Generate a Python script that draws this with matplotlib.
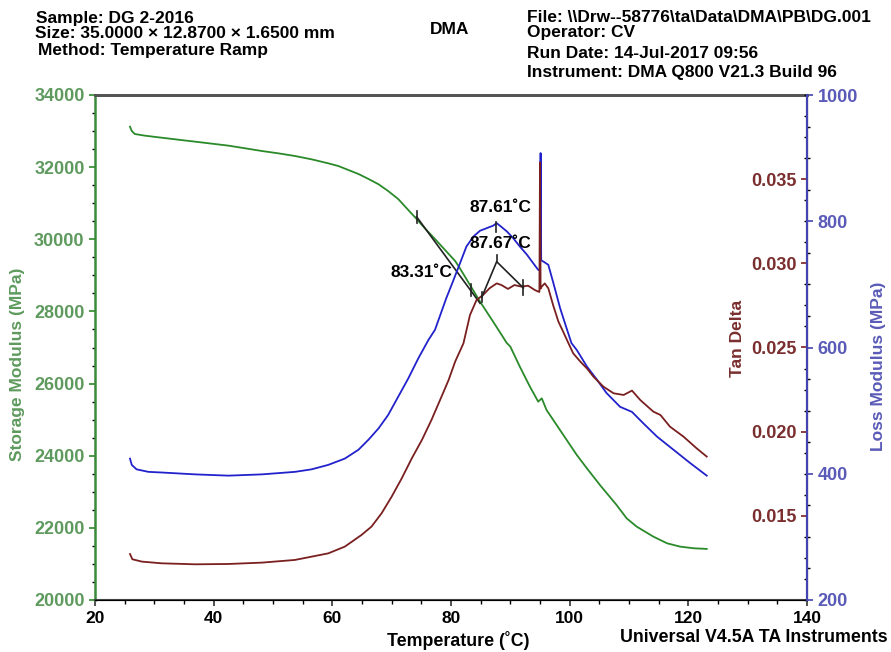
import matplotlib.pyplot as plt
from matplotlib.ticker import MultipleLocator

plt.rcParams['font.family'] = ['Liberation Sans', 'DejaVu Sans']
plt.rcParams['font.weight'] = 'bold'

# Storage modulus (MPa) vs temperature (C)
T_sto = [25.9, 26.2, 26.7, 28.4, 31.2, 34.0, 36.9, 39.7, 42.5, 45.3, 48.1, 50.9, 53.7,
         56.5, 59.3, 61.0, 62.7, 64.4, 66.1, 67.8, 69.4, 71.1, 72.8, 74.2, 75.6, 77.3,
         79.0, 80.7, 81.5, 83.2, 84.9, 87.1, 88.0, 89.4, 90.0, 91.6, 93.3, 94.7, 95.3,
         96.1, 97.8, 99.5, 101.2, 102.9, 105.1, 107.9, 109.6, 111.3, 114.1, 116.4, 118.6,
         120.9, 123.1]
E_sto = [33122, 33002, 32919, 32873, 32817, 32762, 32706, 32651, 32596, 32522, 32448, 32383,
         32309, 32217, 32106, 32032, 31921, 31810, 31672, 31524, 31339, 31117, 30812, 30563,
         30304, 30008, 29703, 29398, 29196, 28733, 28270, 27716, 27486, 27125, 27024, 26469,
         25915, 25499, 25591, 25268, 24852, 24436, 24021, 23651, 23189, 22635, 22265, 22034,
         21757, 21573, 21480, 21434, 21416]

# Loss modulus (MPa)
T_loss = [25.9, 26.2, 27.0, 29.0, 31.2, 36.9, 42.5, 48.1, 53.7, 56.5, 59.3, 62.1, 64.4,
          66.1, 67.8, 69.4, 71.1, 72.8, 74.5, 76.2, 77.3, 78.1, 79.2, 80.3, 81.5, 82.6,
          83.8, 84.9, 86.0, 87.1, 87.7, 88.5, 89.4, 90.5, 91.6, 92.8, 93.9, 94.7, 95.0,
          95.1, 95.2, 95.6, 96.4, 97.2, 98.4, 99.5, 100.3, 101.2, 102.9, 104.6, 106.2,
          108.5, 110.5, 112.4, 114.7, 117.5, 120.3, 123.1]
E_loss = [424, 414, 407, 403, 402, 399, 397, 399, 403, 407, 414, 424, 438,
          454, 472, 493, 522, 551, 583, 612, 628, 649, 678, 704, 733, 760,
          776, 785, 789, 793, 797, 791, 784, 773, 760, 747, 733, 723, 722,
          908, 738, 736, 731, 704, 662, 630, 607, 596, 570, 549, 528,
          506, 498, 480, 459, 438, 417, 397]

# Tan delta
T_tan = [25.9, 26.3, 27.9, 31.2, 36.9, 42.5, 48.1, 53.7, 59.3, 62.1, 64.9, 66.6, 68.3,
         70.0, 71.7, 73.4, 75.1, 76.7, 78.4, 79.6, 80.7, 82.1, 83.2, 84.3, 85.4, 86.5,
         87.7, 88.5, 89.6, 90.7, 91.8, 93.0, 94.1, 94.7, 94.9, 95.0, 95.1, 95.3, 95.8,
         96.4, 97.2, 98.1, 98.9, 99.8, 100.6, 101.8, 102.9, 104.0, 105.7, 107.4, 109.1,
         110.5, 111.9, 114.1, 115.3, 116.9, 119.2, 121.4, 123.1]
tan_d = [0.01273, 0.01242, 0.01228, 0.01218, 0.01212, 0.01214, 0.01222, 0.01238, 0.01277,
         0.01317, 0.01386, 0.01436, 0.01515, 0.01614, 0.01723, 0.01842, 0.01951, 0.02069,
         0.02208, 0.02307, 0.02416, 0.02525, 0.02693, 0.02782, 0.02812, 0.02852, 0.02881,
         0.02871, 0.02848, 0.02871, 0.02862, 0.02867, 0.02842, 0.02832, 0.02830, 0.03600,
         0.02850, 0.02862, 0.02881, 0.02852, 0.02753, 0.02654, 0.02594, 0.02525, 0.02465,
         0.02416, 0.02376, 0.02327, 0.02267, 0.02228, 0.02218, 0.02244, 0.02188, 0.02119,
         0.02099, 0.02030, 0.01970, 0.01901, 0.01852]

# analysis marks
onset_T, onset_E = [74.2, 84.9], [30626, 28226]
peak_loss_T = 87.6
peak_tan_T = [85.2, 87.7, 92.2]
peak_tan_v = [0.0280, 0.0301, 0.02854]

green, blue, maroon = '#2a8a2a', '#2222cc', '#7a1f1f'
green_lbl, blue_lbl, maroon_lbl = '#5e9a5e', '#5a5ab8', '#7a2e2e'
mark = '#222222'

fig = plt.figure(figsize=(8.91, 6.52), dpi=100)
ax = fig.add_axes([95 / 891, 1 - 600 / 652, 712 / 891, 505 / 652])
ax2 = ax.twinx()
ax3 = ax.twinx()

ax.plot(T_sto, E_sto, color=green, lw=1.3)
ax2.plot(T_loss, E_loss, color=blue, lw=1.3)
ax3.plot(T_tan, tan_d, color=maroon, lw=1.3)

# onset tangent on storage modulus
ax.plot(onset_T, onset_E, color=mark, lw=1.2)
ax.plot([74.2, 74.2], [30460, 30790], color=mark, lw=1.2)
ax.plot([83.3, 83.3], [28420, 28750], color=mark, lw=1.2)
ax.text(80.2, 29066, '83.31˚C', ha='right', va='center', fontsize=12.5, weight='bold')

# loss modulus peak
ax2.plot([peak_loss_T, peak_loss_T], [783, 799], color=mark, lw=1.2)
ax2.text(88.3, 821, '87.61˚C', ha='center', va='center', fontsize=12.5, weight='bold')

# tan delta peak
ax3.plot(peak_tan_T, peak_tan_v, color=mark, lw=1.2)
ax3.plot([85.2, 85.2], [0.0277, 0.0283], color=mark, lw=1.2)
ax3.plot([92.2, 92.2], [0.0281, 0.0290], color=mark, lw=1.2)
ax3.plot([87.7, 87.7], [0.0301, 0.0305], color=mark, lw=1.2)
ax3.text(88.3, 0.0312, '87.67˚C', ha='center', va='center', fontsize=12.5, weight='bold')

ax.set_xlim(20, 140)
ax.set_ylim(20000, 34000)
ax2.set_ylim(200, 1000)
ax3.set_ylim(0.010, 0.040)

ax.xaxis.set_major_locator(MultipleLocator(20))
ax.xaxis.set_minor_locator(MultipleLocator(5))
ax.yaxis.set_major_locator(MultipleLocator(2000))
ax.yaxis.set_minor_locator(MultipleLocator(500))
ax2.yaxis.set_major_locator(MultipleLocator(200))
ax2.yaxis.set_minor_locator(MultipleLocator(50))
ax3.set_yticks([0.015, 0.020, 0.025, 0.030, 0.035])
ax3.yaxis.set_minor_locator(MultipleLocator(0.00125))

# tan delta axis sits on the right spine, ticks and labels facing inward
ax3.spines['left'].set_position(('axes', 1.0))
ax3.yaxis.set_ticks_position('left')
for s in ['top', 'bottom', 'right']:
    ax3.spines[s].set_visible(False)
ax3.spines['left'].set_color('#4444b0')
ax3.spines['left'].set_linewidth(1.5)
ax3.yaxis.set_major_formatter(plt.FuncFormatter(lambda v, p: f'{v:.3f}'))

ax.tick_params(axis='x', colors='#333333', labelcolor='black', labelsize=12.5, length=4.5, width=1.2)
ax.tick_params(axis='x', which='minor', length=3, width=1)
ax.tick_params(axis='y', colors=green, labelcolor=green_lbl, labelsize=13, length=4, width=1.2)
ax.tick_params(axis='y', which='minor', length=2.5, width=1)
ax2.tick_params(axis='y', colors='#4444b0', labelcolor=blue_lbl, labelsize=13, length=4, width=1.2)
ax2.tick_params(axis='y', which='minor', length=2.5, width=1)
ax3.tick_params(axis='y', colors=maroon, labelcolor=maroon_lbl, labelsize=13, length=4, width=1.2)
ax3.tick_params(axis='y', which='minor', length=2.5, width=1)

for a in (ax, ax2):
    a.spines['top'].set_color('#555555')
    a.spines['top'].set_linewidth(2)
ax.spines['left'].set_color('#3a8a3a')
ax.spines['left'].set_linewidth(1.8)
ax.spines['bottom'].set_color('#444444')
ax.spines['bottom'].set_linewidth(1.5)
ax2.spines['right'].set_color('#4444b0')
ax2.spines['right'].set_linewidth(1.5)
ax2.spines['left'].set_visible(False)

# axis titles
fig.text(18 / 891, 1 - 364 / 652, 'Storage Modulus (MPa)', rotation=90, ha='center', va='center',
         color=green_lbl, fontsize=12.5, weight='bold')
fig.text(878 / 891, 1 - 366 / 652, 'Loss Modulus (MPa)', rotation=90, ha='center', va='center',
         color=blue_lbl, fontsize=12.5, weight='bold')
fig.text(738 / 891, 1 - 338 / 652, 'Tan Delta', rotation=90, ha='center', va='center',
         color=maroon_lbl, fontsize=12.5, weight='bold')
fig.text(458 / 891, 1 - 640 / 652, 'Temperature (˚C)', ha='center', va='center', fontsize=12.8, weight='bold')
fig.text(888 / 891, 1 - 638 / 652, 'Universal V4.5A TA Instruments', ha='right', va='center',
         fontsize=12.8, weight='bold')

# header
hdr = dict(fontsize=12.5, weight='bold', va='center')
fig.text(36 / 891, 1 - 18 / 652, 'Sample: DG 2-2016', **hdr)
fig.text(35 / 891, 1 - 34 / 652, 'Size: 35.0000 × 12.8700 × 1.6500 mm', **hdr)
fig.text(38 / 891, 1 - 50 / 652, 'Method: Temperature Ramp', **hdr)
fig.text(450 / 891, 1 - 30 / 652, 'DMA', ha='center', fontsize=12.5, weight='bold', va='center')
fig.text(527 / 891, 1 - 18 / 652, 'File: \\\\Drw--58776\\ta\\Data\\DMA\\PB\\DG.001', **hdr)
fig.text(527 / 891, 1 - 33 / 652, 'Operator: CV', **hdr)
fig.text(527 / 891, 1 - 53 / 652, 'Run Date: 14-Jul-2017 09:56', **hdr)
fig.text(527 / 891, 1 - 72 / 652, 'Instrument: DMA Q800 V21.3 Build 96', **hdr)

plt.savefig('out.png', dpi=100)
